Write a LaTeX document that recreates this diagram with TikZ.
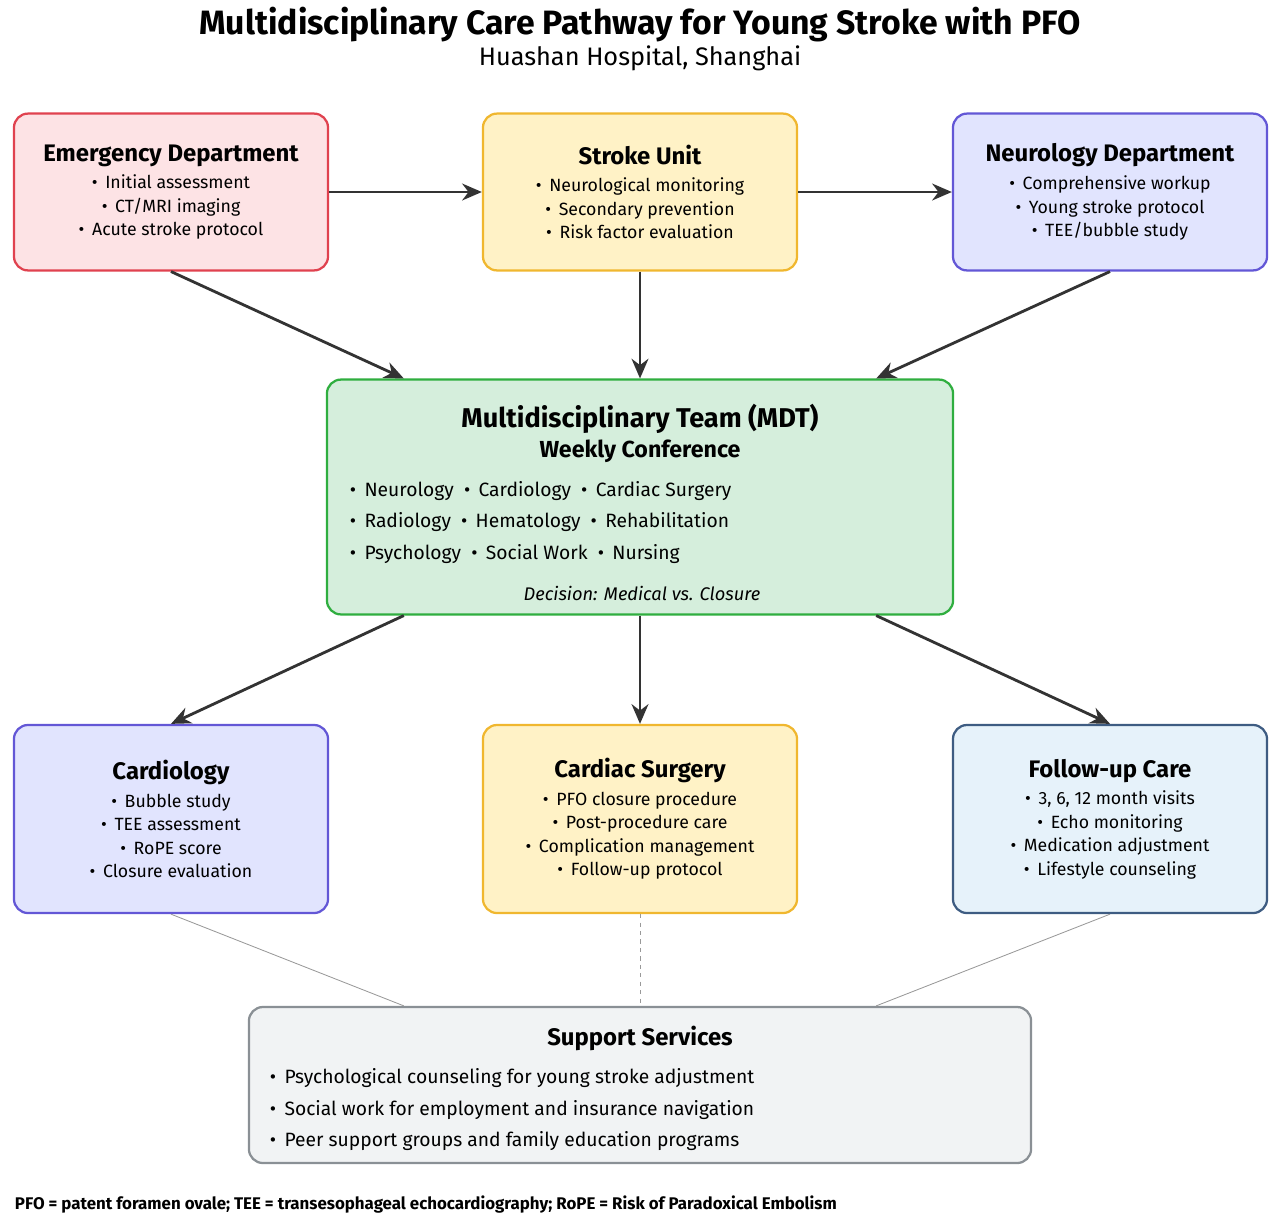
\documentclass[tikz,border=0pt]{standalone}
\usepackage{fontspec}
\setmainfont{Fira Sans}
\usetikzlibrary{positioning,calc,arrows.meta}
\definecolor{edfill}{HTML}{FDE3E5}
\definecolor{edline}{HTML}{E0424F}
\definecolor{sufill}{HTML}{FFF2C6}
\definecolor{suline}{HTML}{F0B72F}
\definecolor{nefill}{HTML}{E1E4FE}
\definecolor{neline}{HTML}{6357D6}
\definecolor{mdtfill}{HTML}{D5EEDC}
\definecolor{mdtline}{HTML}{2FAE3F}
\definecolor{fufill}{HTML}{E6F2FA}
\definecolor{fuline}{HTML}{3E5C82}
\definecolor{ssfill}{HTML}{F1F3F4}
\definecolor{ssline}{HTML}{8A9095}
\definecolor{arrowgray}{HTML}{333333}

\newcommand{\bx}{\textbullet\ \,}

\begin{document}
\begin{tikzpicture}[
	x=0.025cm,y=-0.025cm,
	box/.style={draw,line width=1.6pt,rounded corners=10pt,minimum width=7.85cm,minimum height=3.92cm,align=center,
		font=\fontsize{12.6}{16.7}\selectfont,inner sep=0pt},
	flow/.style={line width=2pt,draw=arrowgray,-{Stealth[length=14pt,width=12pt]}},
	link/.style={draw=gray!80,line width=0.6pt}]
	\useasboundingbox (0,0) rectangle (1280,1224);
	% title
	\node (title) at (640,25) {\fontsize{24}{26}\selectfont\bfseries Multidisciplinary Care Pathway for Young Stroke with PFO};
	\node (subtitle) at (640,58) {\fontsize{18}{20}\selectfont Huashan Hospital, Shanghai};
	% top row
	\node[box,fill=edfill,draw=edline] (ed) at (171,192) {{\fontsize{17}{19}\selectfont\bfseries Emergency Department}\\[3pt]
		\bx Initial assessment\\ \bx CT/MRI imaging\\ \bx Acute stroke protocol};
	\node[box,fill=sufill,draw=suline] (su) at (640,192) {{\fontsize{17}{19}\selectfont\bfseries Stroke Unit}\\[3pt]
		\bx Neurological monitoring\\ \bx Secondary prevention\\ \bx Risk factor evaluation};
	\node[box,fill=nefill,draw=neline] (ne) at (1110,192) {{\fontsize{17}{19}\selectfont\bfseries Neurology Department}\\[3pt]
		\bx Comprehensive workup\\ \bx Young stroke protocol\\ \bx TEE/bubble study};
	% mdt
	\node[box,fill=mdtfill,draw=mdtline,minimum width=15.65cm,minimum height=5.87cm] (mdt) at (640,497) {};
	\node (mdttitle) at (640,419) {\fontsize{19.3}{22}\selectfont\bfseries Multidisciplinary Team (MDT)};
	\node (mdtsub) at (640,451) {\fontsize{16.5}{19}\selectfont\bfseries Weekly Conference};
	\node[anchor=west,font=\fontsize{13.7}{16}\selectfont] (row1) at (345,491) {\bx Neurology \ \bx Cardiology \ \bx Cardiac Surgery};
	\node[anchor=west,font=\fontsize{13.7}{16}\selectfont] (row2) at (345,522) {\bx Radiology \ \bx Hematology \ \bx Rehabilitation};
	\node[anchor=west,font=\fontsize{13.7}{16}\selectfont] (row3) at (345,554) {\bx Psychology \ \bx Social Work \ \bx Nursing};
	\node[font=\fontsize{13}{15}\selectfont\itshape] (decision) at (642,593) {Decision: Medical vs. Closure};
	% bottom row
	\node[box,fill=nefill,draw=neline,minimum height=4.7cm] (ca) at (171,819) {{\fontsize{17}{19}\selectfont\bfseries Cardiology}\\[3pt]
		\bx Bubble study\\ \bx TEE assessment\\ \bx RoPE score\\ \bx Closure evaluation};
	\node[box,fill=sufill,draw=suline,minimum height=4.7cm] (cs) at (640,819) {{\fontsize{17}{19}\selectfont\bfseries Cardiac Surgery}\\[3pt]
		\bx PFO closure procedure\\ \bx Post-procedure care\\ \bx Complication management\\ \bx Follow-up protocol};
	\node[box,fill=fufill,draw=fuline,minimum height=4.7cm] (fu) at (1110,819) {{\fontsize{17}{19}\selectfont\bfseries Follow-up Care}\\[3pt]
		\bx 3, 6, 12 month visits\\ \bx Echo monitoring\\ \bx Medication adjustment\\ \bx Lifestyle counseling};
	% support
	\node[box,fill=ssfill,draw=ssline,minimum width=19.55cm,minimum height=3.9cm] (ss) at (640,1085) {};
	\node (sstitle) at (640,1038) {\fontsize{17}{19}\selectfont\bfseries Support Services};
	\node[anchor=west,font=\fontsize{13.7}{16}\selectfont] (ss1) at (265,1078) {\bx Psychological counseling for young stroke adjustment};
	\node[anchor=west,font=\fontsize{13.7}{16}\selectfont] (ss2) at (265,1110) {\bx Social work for employment and insurance navigation};
	\node[anchor=west,font=\fontsize{13.7}{16}\selectfont] (ss3) at (265,1141) {\bx Peer support groups and family education programs};
	% footnote
	\node[anchor=west,font=\fontsize{12}{14}\selectfont\bfseries] (note) at (10,1205) {PFO = patent foramen ovale; TEE = transesophageal echocardiography; RoPE = Risk of Paradoxical Embolism};
	% arrows
	\draw[flow] (ed) -- (su);
	\draw[flow] (su) -- (ne);
	\draw[flow] (ed.south) -- ([xshift=1.95cm]mdt.north west);
	\draw[flow] (su.south) -- (mdt.north);
	\draw[flow] (ne.south) -- ([xshift=-1.95cm]mdt.north east);
	\draw[flow] ([xshift=1.95cm]mdt.south west) -- (ca.north);
	\draw[flow] (mdt.south) -- (cs.north);
	\draw[flow] ([xshift=-1.95cm]mdt.south east) -- (fu.north);
	% support links
	\draw[link] (ca.south) -- ([xshift=3.9cm]ss.north west);
	\draw[link,dashed] (cs.south) -- (ss.north);
	\draw[link] (fu.south) -- ([xshift=-3.9cm]ss.north east);
\end{tikzpicture}
\end{document}
